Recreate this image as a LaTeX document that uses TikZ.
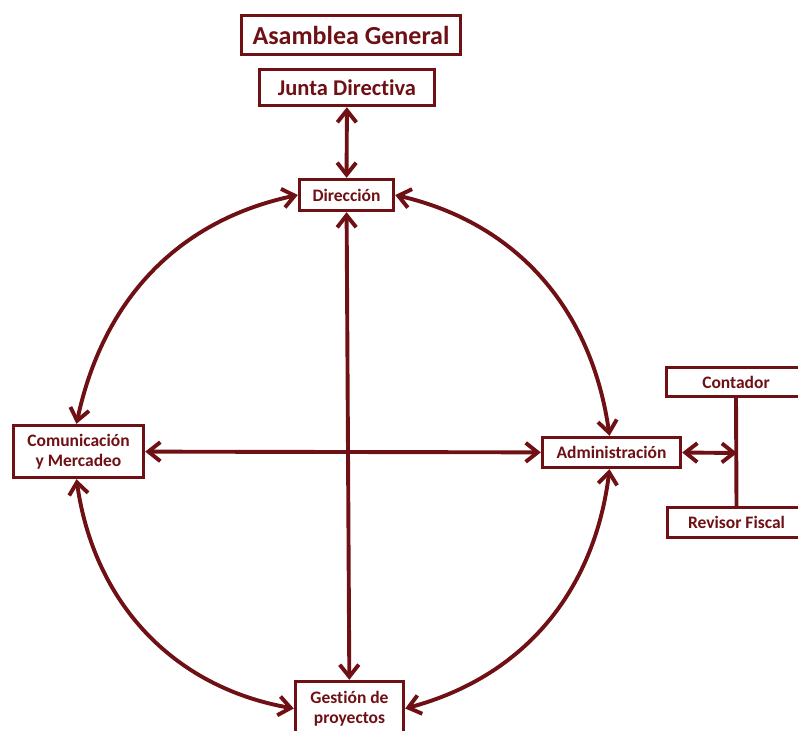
\documentclass[tikz,border=0pt]{standalone}
\usepackage{fontspec}
\setmainfont{Carlito}[RawFeature={-liga}]
\usetikzlibrary{arrows.meta}
\definecolor{maroon}{HTML}{6E1014}

\begin{document}
\begin{tikzpicture}[x=1pt, y=-1pt,
        >={Straight Barb[length=12pt,width=19pt]},
        every node/.style={font=\bfseries, text=maroon, align=center, inner sep=0pt},
        box/.style={draw=maroon, line width=3.4pt, fill=white},
        top/.style={box, font=\fontsize{26}{29}\selectfont\bfseries, line width=3.8pt},
        board/.style={box, font=\fontsize{22.5}{25}\selectfont\bfseries},
        unit/.style={box, font=\fontsize{17.5}{20.5}\selectfont\bfseries},
        arr/.style={<->, line width=3.9pt, draw=maroon},
        link/.style={line width=3.9pt, draw=maroon}
      ]
        \useasboundingbox (0,0) rectangle (798,731);
        \clip (0,0) rectangle (798,731);
        \node[top,   minimum width=219pt, minimum height=39pt] (asam) at (351,35) {Asamblea General};
        \node[board, minimum width=175pt, minimum height=36pt] (junta) at (347,87.5) {Junta Directiva};
        \node[unit,  minimum width=94pt,  minimum height=31pt] (dir) at (346.5,195) {Direcci\'on};
        \node[unit,  minimum width=130pt, minimum height=52pt] (com) at (78.5,451.5) {Comunicaci\'on\\y Mercadeo};
        \node[unit,  minimum width=138pt, minimum height=30pt] (adm) at (611.5,452.5) {Administraci\'on};
        \node[unit,  minimum width=108pt, minimum height=54pt] (ges) at (349.5,708.5) {Gesti\'on de\\proyectos};
        \node[unit,  minimum width=139pt, minimum height=29pt] (cont) at (736,382) {Contador};
        \node[unit,  minimum width=138pt, minimum height=30pt] (rev) at (736.5,522.5) {Revisor Fiscal};
        \coordinate (fisc) at (737,453);
        % enlaces
        \draw[arr] (junta) -- (dir);
        \draw[arr] (dir) -- (ges);
        \draw[arr] (com) -- (adm);
        \draw[arr] (dir.west) to[out=192, in=78] ([xshift=-2pt]com.north);
        \draw[arr] (dir.east) to[out=-13, in=98] ([xshift=-2pt]adm.north);
        \draw[arr] ([xshift=-2pt]com.south) to[out=-82, in=170] (ges.west);
        \draw[arr] ([xshift=-2pt]adm.south) to[out=-97, in=15] (ges.east);
        \draw[link] (cont.south) -- (rev.north);
        \draw[arr] (adm.east) -- (fisc);
      \end{tikzpicture}
\end{document}
